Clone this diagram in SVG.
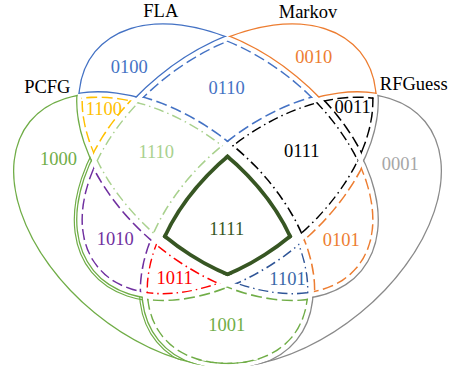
<svg xmlns="http://www.w3.org/2000/svg" width="451" height="366" viewBox="0 0 451 366">
<style>
.ln{fill:none;stroke-linecap:butt}
.ring{stroke-width:2.6}
.dash{stroke-width:3;stroke-dasharray:11 4.5}
.dd{stroke-width:3;stroke-dasharray:10 4 1.5 4}
.cP{stroke:#70AD47}.cF{stroke:#4472C4}.cM{stroke:#ED7D31}.cR{stroke:#8A8A8A}
.cY{stroke:#FFC000}.cK{stroke:#000}.cPu{stroke:#7030A0}.cLg{stroke:#A9D18E}.cRed{stroke:#FF0000}.cDb{stroke:#2F5597}
.core{stroke:#375623;stroke-width:7.6}
.t{font-family:"Liberation Serif","Times New Roman",serif;font-size:18.5px;text-anchor:middle}
</style>
<defs>
<!-- four ellipses: PCFG (P), FLA (F), Markov (M), RFGuess (R); suffix = offset used for clipping/outlines -->
<ellipse id="Pin0" rx="172.05" ry="107.45" transform="translate(162.4 230.3) rotate(39.4)"/>
<ellipse id="Pout1" rx="172.75" ry="108.15" transform="translate(162.4 230.3) rotate(39.4)"/>
<ellipse id="Pin3" rx="168.65" ry="104.05" transform="translate(162.4 230.3) rotate(39.4)"/>
<ellipse id="Pout3" rx="174.15" ry="109.55" transform="translate(162.4 230.3) rotate(39.4)"/>
<ellipse id="Pin7" rx="164.8" ry="100.2" transform="translate(162.4 230.3) rotate(39.4)"/>

<ellipse id="Fin0" rx="172.05" ry="107.45" transform="translate(227.5 160.5) rotate(39.4)"/>
<ellipse id="Fout1" rx="172.75" ry="108.15" transform="translate(227.5 160.5) rotate(39.4)"/>
<ellipse id="Fin3" rx="168.65" ry="104.05" transform="translate(227.5 160.5) rotate(39.4)"/>
<ellipse id="Fout3" rx="174.15" ry="109.55" transform="translate(227.5 160.5) rotate(39.4)"/>
<ellipse id="Fin7" rx="164.8" ry="100.2" transform="translate(227.5 160.5) rotate(39.4)"/>

<ellipse id="Min0" rx="172.05" ry="107.45" transform="translate(227.5 160.5) rotate(-39.4)"/>
<ellipse id="Mout1" rx="172.75" ry="108.15" transform="translate(227.5 160.5) rotate(-39.4)"/>
<ellipse id="Min3" rx="168.65" ry="104.05" transform="translate(227.5 160.5) rotate(-39.4)"/>
<ellipse id="Mout3" rx="174.15" ry="109.55" transform="translate(227.5 160.5) rotate(-39.4)"/>
<ellipse id="Min7" rx="164.8" ry="100.2" transform="translate(227.5 160.5) rotate(-39.4)"/>
<ellipse id="Mout45" rx="175.9" ry="111.3" transform="translate(227.5 160.5) rotate(-39.4)"/>

<ellipse id="Rin0" rx="172.05" ry="107.45" transform="translate(292.6 230.3) rotate(-39.4)"/>
<ellipse id="Rout1" rx="172.75" ry="108.15" transform="translate(292.6 230.3) rotate(-39.4)"/>
<ellipse id="Rin3" rx="168.65" ry="104.05" transform="translate(292.6 230.3) rotate(-39.4)"/>
<ellipse id="Rout3" rx="174.15" ry="109.55" transform="translate(292.6 230.3) rotate(-39.4)"/>
<ellipse id="Rin7" rx="164.8" ry="100.2" transform="translate(292.6 230.3) rotate(-39.4)"/>
<ellipse id="Rout45" rx="175.9" ry="111.3" transform="translate(292.6 230.3) rotate(-39.4)"/>

<!-- inside clips -->
<clipPath id="c-Pin0"><use href="#Pin0"/></clipPath>
<clipPath id="c-Fin0"><use href="#Fin0"/></clipPath>
<clipPath id="c-Min0"><use href="#Min0"/></clipPath>
<clipPath id="c-Rin0"><use href="#Rin0"/></clipPath>
<clipPath id="c-Pin3"><use href="#Pin3"/></clipPath>
<clipPath id="c-Fin3"><use href="#Fin3"/></clipPath>
<clipPath id="c-Min3"><use href="#Min3"/></clipPath>
<clipPath id="c-Rin3"><use href="#Rin3"/></clipPath>
<clipPath id="c-Pin7"><use href="#Pin7"/></clipPath>
<clipPath id="c-Fin7"><use href="#Fin7"/></clipPath>
<clipPath id="c-Min7"><use href="#Min7"/></clipPath>
<clipPath id="c-Rin7"><use href="#Rin7"/></clipPath>
<!-- outside clips -->
<clipPath id="c-Pout1"><path clip-rule="evenodd" transform="translate(162.4 230.3) rotate(39.4)" d="M-999-999H999V999H-999ZM-172.75 0A172.75 108.15 0 1 0 172.75 0A172.75 108.15 0 1 0 -172.75 0Z"/></clipPath>
<clipPath id="c-Fout1"><path clip-rule="evenodd" transform="translate(227.5 160.5) rotate(39.4)" d="M-999-999H999V999H-999ZM-172.75 0A172.75 108.15 0 1 0 172.75 0A172.75 108.15 0 1 0 -172.75 0Z"/></clipPath>
<clipPath id="c-Mout1"><path clip-rule="evenodd" transform="translate(227.5 160.5) rotate(-39.4)" d="M-999-999H999V999H-999ZM-172.75 0A172.75 108.15 0 1 0 172.75 0A172.75 108.15 0 1 0 -172.75 0Z"/></clipPath>
<clipPath id="c-Rout1"><path clip-rule="evenodd" transform="translate(292.6 230.3) rotate(-39.4)" d="M-999-999H999V999H-999ZM-172.75 0A172.75 108.15 0 1 0 172.75 0A172.75 108.15 0 1 0 -172.75 0Z"/></clipPath>
<clipPath id="c-Pout3"><path clip-rule="evenodd" transform="translate(162.4 230.3) rotate(39.4)" d="M-999-999H999V999H-999ZM-174.15 0A174.15 109.55 0 1 0 174.15 0A174.15 109.55 0 1 0 -174.15 0Z"/></clipPath>
<clipPath id="c-Fout3"><path clip-rule="evenodd" transform="translate(227.5 160.5) rotate(39.4)" d="M-999-999H999V999H-999ZM-174.15 0A174.15 109.55 0 1 0 174.15 0A174.15 109.55 0 1 0 -174.15 0Z"/></clipPath>
<clipPath id="c-Mout3"><path clip-rule="evenodd" transform="translate(227.5 160.5) rotate(-39.4)" d="M-999-999H999V999H-999ZM-174.15 0A174.15 109.55 0 1 0 174.15 0A174.15 109.55 0 1 0 -174.15 0Z"/></clipPath>
<clipPath id="c-Rout3"><path clip-rule="evenodd" transform="translate(292.6 230.3) rotate(-39.4)" d="M-999-999H999V999H-999ZM-174.15 0A174.15 109.55 0 1 0 174.15 0A174.15 109.55 0 1 0 -174.15 0Z"/></clipPath>
</defs>

<rect width="451" height="366" fill="#fff"/>

<!-- set titles -->
<g id="titles" class="t" fill="#000">
<text x="160.8" y="17.3">FLA</text>
<text x="308" y="18.3">Markov</text>
<text x="47.3" y="92.7">PCFG</text>
<text x="413.8" y="90">RFGuess</text>
</g>

<!-- single-set regions -->
<g id="r1000">
<g clip-path="url(#c-Pin0)"><g clip-path="url(#c-Fout1)"><g clip-path="url(#c-Mout1)"><g clip-path="url(#c-Rout1)">
<g class="ln ring cP"><use href="#Pin0"/><use href="#Fout1"/><use href="#Mout1"/><use href="#Rout1"/></g>
<g class="ln cP" stroke-width="1.2"><use href="#Mout45"/><use href="#Rout45"/></g>
</g></g></g></g>
<text class="t" x="58.5" y="165" fill="#70AD47">1000</text>
</g>

<g id="r0100">
<g clip-path="url(#c-Fin0)"><g clip-path="url(#c-Pout1)"><g clip-path="url(#c-Mout1)"><g clip-path="url(#c-Rout1)">
<g class="ln ring cF"><use href="#Fin0"/><use href="#Pout1"/><use href="#Mout1"/></g>
</g></g></g></g>
<text class="t" x="129.3" y="72.7" fill="#4472C4">0100</text>
</g>

<g id="r0010">
<g clip-path="url(#c-Min0)"><g clip-path="url(#c-Pout1)"><g clip-path="url(#c-Fout1)"><g clip-path="url(#c-Rout1)">
<g class="ln ring cM"><use href="#Min0"/><use href="#Fout1"/><use href="#Rout1"/></g>
</g></g></g></g>
<text class="t" x="313.7" y="63.3" fill="#ED7D31">0010</text>
</g>

<g id="r0001">
<g clip-path="url(#c-Rin0)"><g clip-path="url(#c-Pout1)"><g clip-path="url(#c-Fout1)"><g clip-path="url(#c-Mout1)">
<g class="ln ring cR"><use href="#Rin0"/><use href="#Pout1"/><use href="#Fout1"/><use href="#Mout1"/></g>
</g></g></g></g>
<text class="t" x="400.3" y="170" fill="#A6A6A6">0001</text>
</g>

<!-- two-set regions -->
<g id="r1100">
<g clip-path="url(#c-Pin3)"><g clip-path="url(#c-Fin3)"><g clip-path="url(#c-Mout3)"><g clip-path="url(#c-Rout3)">
<g class="ln dash cY"><use href="#Pin3"/><use href="#Fin3"/><use href="#Mout3"/></g>
</g></g></g></g>
<text class="t" x="103.8" y="115" fill="#FFC000">1100</text>
</g>

<g id="r0011">
<g clip-path="url(#c-Min3)"><g clip-path="url(#c-Rin3)"><g clip-path="url(#c-Pout3)"><g clip-path="url(#c-Fout3)">
<g class="ln dash cK"><use href="#Min3"/><use href="#Rin3"/><use href="#Fout3"/></g>
</g></g></g></g>
<text class="t" x="352.7" y="112.7" fill="#000">0011</text>
</g>

<g id="r0110">
<g clip-path="url(#c-Fin3)"><g clip-path="url(#c-Min3)"><g clip-path="url(#c-Pout3)"><g clip-path="url(#c-Rout3)">
<g class="ln dash cF"><use href="#Fin3"/><use href="#Min3"/><use href="#Pout3"/><use href="#Rout3"/></g>
</g></g></g></g>
<text class="t" x="226.7" y="94" fill="#4472C4">0110</text>
</g>

<g id="r1010">
<g clip-path="url(#c-Pin3)"><g clip-path="url(#c-Min3)"><g clip-path="url(#c-Fout3)"><g clip-path="url(#c-Rout3)">
<g class="ln dash cPu"><use href="#Min3"/><use href="#Fout3"/><use href="#Rout3"/></g>
</g></g></g></g>
<text class="t" x="115.3" y="245.3" fill="#7030A0">1010</text>
</g>

<g id="r0101">
<g clip-path="url(#c-Fin3)"><g clip-path="url(#c-Rin3)"><g clip-path="url(#c-Pout3)"><g clip-path="url(#c-Mout3)">
<g class="ln dash cM"><use href="#Fin3"/><use href="#Pout3"/><use href="#Mout3"/></g>
</g></g></g></g>
<text class="t" x="341.2" y="245.7" fill="#ED7D31">0101</text>
</g>

<g id="r1001">
<g clip-path="url(#c-Pin3)"><g clip-path="url(#c-Rin3)"><g clip-path="url(#c-Fout3)"><g clip-path="url(#c-Mout3)">
<g class="ln dash cP"><use href="#Pin3"/><use href="#Rin3"/><use href="#Fout3"/><use href="#Mout3"/></g>
</g></g></g></g>
<text class="t" x="226.8" y="330.7" fill="#70AD47">1001</text>
</g>

<!-- three-set regions -->
<g id="r1110">
<g clip-path="url(#c-Pin3)"><g clip-path="url(#c-Fin3)"><g clip-path="url(#c-Min3)"><g clip-path="url(#c-Rout3)">
<g class="ln dd cLg"><use href="#Pin3"/><use href="#Fin3"/><use href="#Min3"/><use href="#Rout3"/></g>
</g></g></g></g>
<text class="t" x="156.2" y="158.3" fill="#A9D18E">1110</text>
</g>

<g id="r0111">
<g clip-path="url(#c-Fin3)"><g clip-path="url(#c-Min3)"><g clip-path="url(#c-Rin3)"><g clip-path="url(#c-Pout3)">
<g class="ln dd cK"><use href="#Fin3"/><use href="#Min3"/><use href="#Rin3"/><use href="#Pout3"/></g>
</g></g></g></g>
<text class="t" x="301.7" y="157.3" fill="#000">0111</text>
</g>

<g id="r1011">
<g clip-path="url(#c-Pin3)"><g clip-path="url(#c-Min3)"><g clip-path="url(#c-Rin3)"><g clip-path="url(#c-Fout3)">
<g class="ln dd cRed"><use href="#Min3"/><use href="#Rin3"/><use href="#Fout3"/></g>
</g></g></g></g>
<text class="t" x="174.6" y="283.5" fill="#FF0000">1011</text>
</g>

<g id="r1101">
<g clip-path="url(#c-Pin3)"><g clip-path="url(#c-Fin3)"><g clip-path="url(#c-Rin3)"><g clip-path="url(#c-Mout3)">
<g class="ln dd cDb"><use href="#Pin3"/><use href="#Fin3"/><use href="#Mout3"/></g>
</g></g></g></g>
<text class="t" x="287.5" y="284.7" fill="#3A68A8">1101</text>
</g>

<!-- four-set core -->
<g id="r1111">
<g clip-path="url(#c-Pin7)"><g clip-path="url(#c-Fin7)"><g clip-path="url(#c-Min7)"><g clip-path="url(#c-Rin7)">
<g class="ln core"><use href="#Pin7"/><use href="#Fin7"/><use href="#Min7"/><use href="#Rin7"/></g>
</g></g></g></g>
<text class="t" x="226.7" y="235" fill="#375623">1111</text>
</g>
</svg>
